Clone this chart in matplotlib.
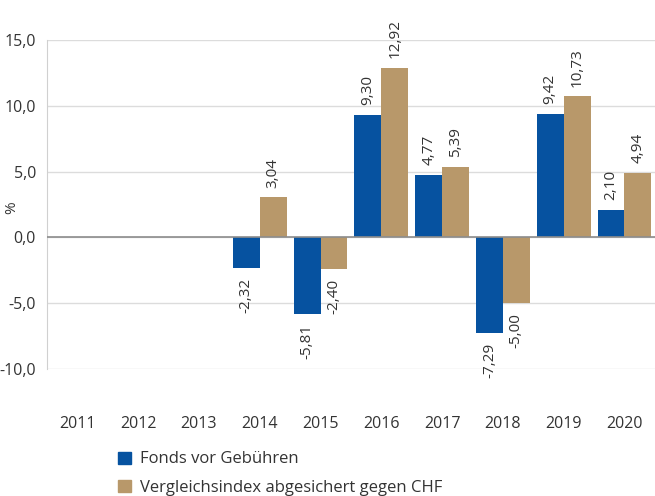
import matplotlib.pyplot as plt
from matplotlib.patches import Patch
import numpy as np

plt.rcParams['font.family'] = ['Open Sans', 'DejaVu Sans']

years = ['2011', '2012', '2013', '2014', '2015', '2016', '2017', '2018', '2019', '2020']
fonds = [None, None, None, -2.32, -5.81, 9.30, 4.77, -7.29, 9.42, 2.10]
index = [None, None, None, 3.04, -2.40, 12.92, 5.39, -5.00, 10.73, 4.94]

blue = '#0652a0'
tan = '#b8986a'
text_col = '#333333'

fig = plt.figure(figsize=(6.55, 4.96), dpi=100)
ax = fig.add_axes([0.0718, 0.256, 0.928, 0.663])

x = np.arange(len(years))
w = 0.443


def fmt(v):
    return ('%.2f' % v).replace('.', ',')


for series, col, off in [(fonds, blue, -w / 2), (index, tan, w / 2)]:
    for i, v in enumerate(series):
        if v is None:
            continue
        ax.bar(x[i] + off, v, w, color=col, zorder=3)
        if v >= 0:
            ax.annotate(fmt(v), (x[i] + off, v), xytext=(0, 7), textcoords='offset points',
                        rotation=90, ha='center', va='bottom', fontsize=11, color=text_col)
        else:
            ax.annotate(fmt(v), (x[i] + off, v), xytext=(0, -7), textcoords='offset points',
                        rotation=90, ha='center', va='top', fontsize=11, color=text_col)

ax.set_xlim(-0.5, len(years) - 0.5)
ax.set_ylim(-10, 15)
ax.set_yticks([-10, -5, 0, 5, 10, 15])
ax.set_yticklabels(['-10,0', '-5,0', '0,0', '5,0', '10,0', '15,0'])
ax.set_xticks(x)
ax.set_xticklabels(years)
ax.tick_params(axis='both', length=0, labelsize=11.5, colors=text_col)
ax.tick_params(axis='x', pad=34)
ax.tick_params(axis='y', pad=8)

ax.grid(axis='y', color='#dcdcdc', linewidth=1, zorder=0)
ax.axhline(0, color='#8c8c8c', linewidth=1.2, zorder=4)
for s in ['top', 'right', 'bottom']:
    ax.spines[s].set_visible(False)
ax.spines['left'].set_color('#d0d0d0')

ax.set_ylabel('%', fontsize=11, color=text_col)
ax.yaxis.set_label_coords(-0.045, 0.49)

handles = [Patch(color=blue, label='Fonds vor Gebühren'),
           Patch(color=tan, label='Vergleichsindex abgesichert gegen CHF')]
fig.legend(handles=handles, loc='upper left', bbox_to_anchor=(0.158, 0.12),
           frameon=False, fontsize=12, handlelength=0.75, handleheight=0.75,
           handletextpad=0.55, labelspacing=0.75, labelcolor=text_col)

fig.savefig('out.png', dpi=100)
